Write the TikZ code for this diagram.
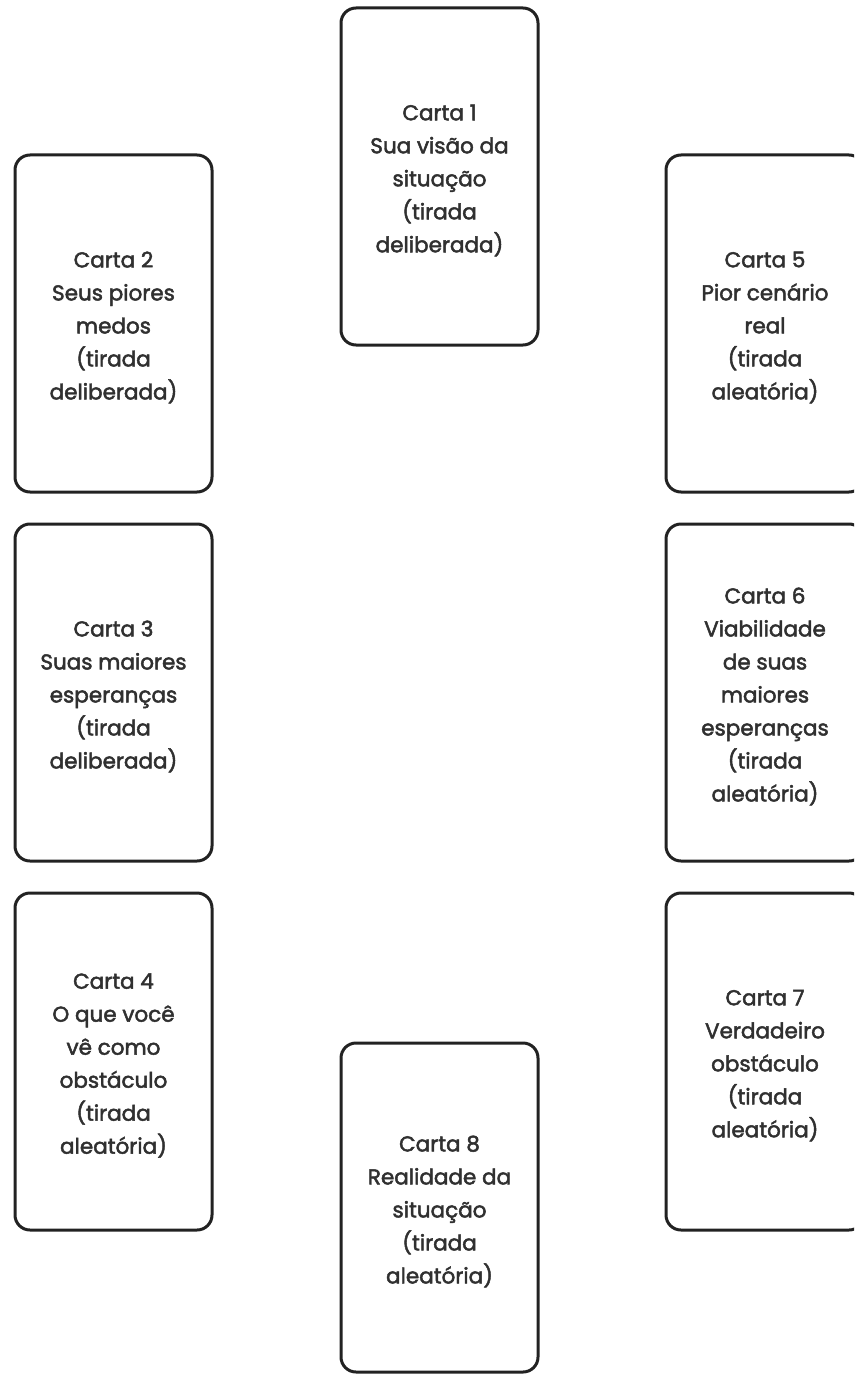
\documentclass[tikz,border=0pt]{standalone}
\usepackage{fontspec}
\setmainfont{Poppins}
\newfontfamily\cardfont{Poppins}[FakeBold=2.2]
\definecolor{edge}{HTML}{222222}
\definecolor{ink}{HTML}{303030}
\begin{document}
\begin{tikzpicture}[x=1pt,y=-1pt,
  cardtext/.style={align=center, text=ink, inner sep=0pt, yshift=-4pt,
    font=\cardfont\fontsize{21.5}{33}\selectfont},
  card/.style={draw=edge, line width=3pt, rounded corners=15pt, rectangle,
    minimum width=197pt, minimum height=337pt, inner sep=0pt,
    label={[cardtext]center:{#1}}},
  rcard/.style={card={#1}, minimum width=198pt}]
\path[use as bounding box, clip] (0,0) rectangle (854,1375);
\fill[white] (0,0) rectangle (854,1375);
\node[card={Carta 1\\Sua visão da\\situação\\(tirada\\deliberada)}] (c1) at (439.5,176.5) {};
\node[card={Carta 2\\Seus piores\\medos\\(tirada\\deliberada)}] (c2) at (113.5,323.5) {};
\node[card={Carta 3\\Suas maiores\\esperanças\\(tirada\\deliberada)}] (c3) at (113.5,692.5) {};
\node[card={Carta 4\\O que você\\vê como\\obstáculo\\(tirada\\aleatória)}] (c4) at (113.5,1061.5) {};
\node[rcard={Carta 5\\Pior cenário\\real\\(tirada\\aleatória)}] (c5) at (765,323.5) {};
\node[rcard={Carta 6\\Viabilidade\\de suas\\maiores\\esperanças\\(tirada\\aleatória)}] (c6) at (765,692.5) {};
\node[rcard={Carta 7\\Verdadeiro\\obstáculo\\(tirada\\aleatória)}] (c7) at (765,1061.5) {};
\node[card={Carta 8\\Realidade da\\situação\\(tirada\\aleatória)}, minimum height=329pt] (c8) at (439.5,1207.5) {};
\end{tikzpicture}
\end{document}
